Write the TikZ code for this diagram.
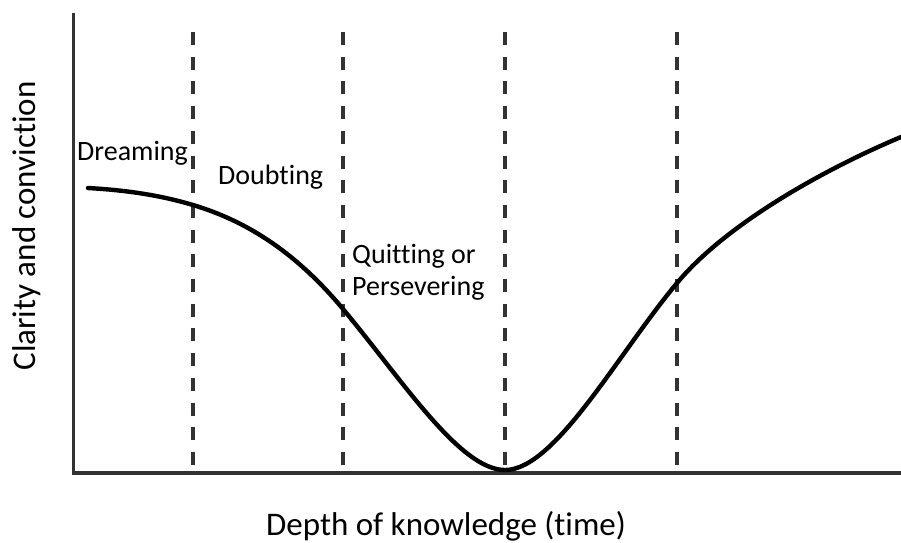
\documentclass[tikz,border=0pt]{standalone}
\usepackage{fontspec}
\setmainfont{Carlito}[Ligatures={NoCommon}]
\begin{document}
\begin{tikzpicture}[x=1pt,y=-1pt,
  axis/.style={line width=3.2pt, draw=black!80},
  phase/.style={line width=3.4pt, draw=black!80, dash pattern=on 13pt off 11.7pt},
  curve/.style={line width=4.4pt, draw=black, line cap=round, line join=round},
  stage/.style={font=\fontsize{28}{32}\selectfont, anchor=base west, inner sep=0pt, align=left},
  axislabel/.style={font=\fontsize{33}{38}\selectfont, inner sep=0pt, anchor=base}]
  \useasboundingbox (0,0) rectangle (901,542);
  % axes
  \coordinate (origin) at (73.5,473);
  \coordinate (ytop) at (73.5,13);
  \coordinate (xend) at (901,473);
  \draw[axis] (ytop) -- (origin) -- (xend);
  % phase boundaries
  \foreach \px/\nm in {193/a,343/b,505/c,677/d} {
    \coordinate (top\nm) at (\px,32);
    \coordinate (bot\nm) at (\px,473);
    \draw[phase] (top\nm) -- (bot\nm);
  }
  % clarity curve: a decline into the valley and a long climb out
  \coordinate (c0) at (88,188);
  \coordinate (c1) at (193,205);
  \coordinate (c2) at (343,309);
  \coordinate (c3) at (505,470);
  \coordinate (c4) at (677,283);
  \coordinate (c5) at (901,137);
  \draw[curve] (c0) .. controls (123,190) and (158,194.5) .. (c1)
                    .. controls (243,220) and (293,249) .. (c2)
                    .. controls (403,381) and (460,470) .. (c3)
                    .. controls (555,470) and (617,355) .. (c4)
                    .. controls (727,223) and (826,168.5) .. (c5);
  % stage labels
  \node[stage] (dream) at (77,160) {Dreaming};
  \node[stage] (doubt) at (218,184) {Doubting};
  \node[stage] (quit) at (352,263) {Quitting or};
  \node[stage] (persevere) at (352,295) {Persevering};
  % axis labels
  \node[axislabel] (xlab) at (446,535) {Depth of knowledge (time)};
  \node[axislabel, rotate=90] (ylab) at (35,226) {Clarity and conviction};
\end{tikzpicture}
\end{document}
